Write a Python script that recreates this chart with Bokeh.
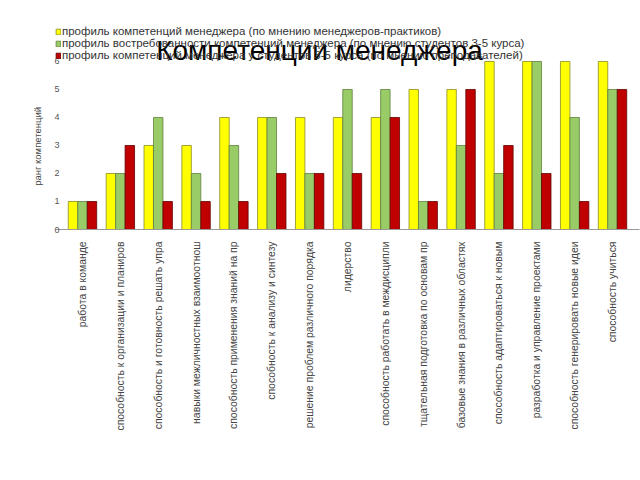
from math import pi
from bokeh.plotting import figure
from bokeh.models import ColumnDataSource, FactorRange, Range1d, Legend, LegendItem, Label, FixedTicker
from bokeh.transform import dodge
from bokeh.embed import file_html
from bokeh.resources import INLINE

categories = [
    "работа в команде",
    "способность к организации и планиров",
    "способность и готовность решать упра",
    "навыки межличностных взаимоотнош",
    "способность применения знаний на пр",
    "способность к анализу и синтезу",
    "решение проблем различного порядка",
    "лидерство",
    "способность работать в междисципли",
    "тщательная подготовка по основам пр",
    "базовые знания в различных областях",
    "способность адаптироваться к новым",
    "разработка и управление проектами",
    "способность генерировать новые идеи",
    "способность учиться",
]
managers = [1, 2, 3, 3, 4, 4, 4, 4, 4, 5, 5, 6, 6, 6, 6]
students = [1, 2, 4, 2, 3, 4, 2, 5, 5, 1, 3, 2, 6, 4, 5]
teachers = [1, 3, 1, 1, 1, 2, 2, 2, 4, 1, 5, 3, 2, 1, 5]
series_names = [
    "профиль компетенций менеджера (по мнению менеджеров-практиков)",
    "профиль востребованности компетенций менеджера (по мнению студентов 3-5 курса)",
    "профиль компетенций менеджера у студентов 3-5 курса (по мнению преподавателей)",
]
colors = ["#FFFF00", "#99CC66", "#C00000"]
outlines = ["#8a8a2a", "#5f7f3f", "#600000"]
title_text = "Компетенции менеджера"
y_label = "ранг компетенций"
y_ticks = [0, 1, 2, 3, 4, 5, 6]

FONT = "Liberation Sans"

src = ColumnDataSource(dict(cat=categories, m=managers, s=students, t=teachers))

# the frame reaches up and left so that legend and title (drawn inside it) are not clipped
p = figure(width=640, height=480,
           x_range=FactorRange(*categories, range_padding=0.213, range_padding_units="absolute"),
           y_range=Range1d(0, 7.82), output_backend="svg", toolbar_location=None,
           min_border_left=55, min_border_right=1, min_border_top=10, min_border_bottom=251)
p.x_range.factor_padding = 0
p.outline_line_color = None
p.grid.visible = False
p.background_fill_color = "white"
p.border_fill_color = "white"

renderers = []
for col, off, c, oc in zip(["m", "s", "t"], [-0.25, 0.0, 0.25], colors, outlines):
    r = p.vbar(x=dodge("cat", off, range=p.x_range), top=col, width=0.25, source=src,
               fill_color=c, line_color=oc, line_width=0.8)
    renderers.append(r)

# one legend per row, so the row pitch can match the reference
for name, r, ly in zip(series_names, renderers, [192, 180, 168]):
    lg = Legend(items=[LegendItem(label=name, renderers=[r])], location=(0, ly))
    lg.label_text_font = FONT
    lg.label_text_font_size = "11.5px"
    lg.label_text_color = "#333333"
    lg.glyph_width = 6
    lg.glyph_height = 7
    lg.label_height = 11
    lg.label_standoff = 1
    lg.spacing = 0
    lg.padding = 0
    lg.margin = 0
    lg.border_line_color = None
    lg.background_fill_alpha = 0
    p.add_layout(lg, "center")

# axes
p.yaxis.ticker = FixedTicker(ticks=y_ticks)
p.yaxis.axis_line_color = None
p.yaxis.major_tick_line_color = None
p.yaxis.major_tick_out = 0
p.yaxis.major_tick_in = 0
p.yaxis.minor_tick_line_color = None
p.yaxis.major_label_text_font = FONT
p.yaxis.major_label_text_font_size = "9px"
p.yaxis.major_label_text_color = "#555555"
p.yaxis.major_label_standoff = -4
# trailing no-break spaces shift the centred label down to the middle of the 0..6 span
p.yaxis.axis_label = y_label + "\u00a0" * 20
p.yaxis.axis_label_text_font = FONT
p.yaxis.axis_label_text_font_size = "9.5px"
p.yaxis.axis_label_text_font_style = "normal"
p.yaxis.axis_label_text_color = "#444444"
p.yaxis.axis_label_standoff = 8

p.xaxis.axis_line_color = "#999999"
p.xaxis.major_tick_line_color = None
p.xaxis.major_tick_out = 0
p.xaxis.major_tick_in = 0
p.xaxis.minor_tick_line_color = None
p.xaxis.major_label_orientation = pi / 2
p.xaxis.major_label_text_font = FONT
p.xaxis.major_label_text_font_size = "10.4px"
p.xaxis.major_label_text_color = "#444444"
p.xaxis.major_label_standoff = 12

title = Label(x=264, y=179, x_units="screen", y_units="screen", text=title_text,
              text_font=FONT, text_font_size="28px", text_color="black",
              text_align="center", text_baseline="alphabetic")
p.add_layout(title)

open("out.html", "w").write(file_html(p, INLINE))
